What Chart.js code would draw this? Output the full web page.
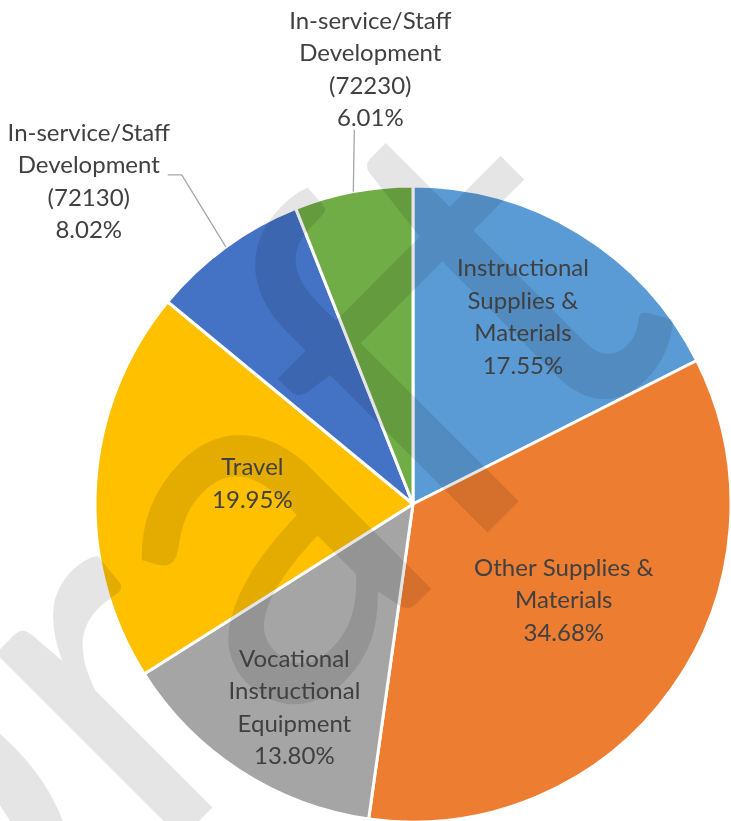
<!DOCTYPE html>
<html>
<head>
<meta charset="utf-8">
<script src="https://cdn.jsdelivr.net/npm/chart.js@4.4.1/dist/chart.umd.min.js"></script>
<style>
  html, body { margin: 0; padding: 0; background: #fff; }
  #grafica { display: block; }
</style>
</head>
<body>
<canvas id="grafica" width="731" height="821"></canvas>
<script>
// category names, one entry per line of the data label
const categorias = [
  ['Instructional', 'Supplies &', 'Materials'],
  ['Other Supplies &', 'Materials'],
  ['Vocational', 'Instructional', 'Equipment'],
  ['Travel'],
  ['In-service/Staff', 'Development', '(72130)'],
  ['In-service/Staff', 'Development', '(72230)'],
];
const porcentajes = [17.55, 34.68, 13.80, 19.95, 8.02, 6.01];
const colores = ['#5B9BD5', '#ED7D31', '#A5A5A5', '#FFC000', '#4472C4', '#70AD47'];

// where each label goes: inside along the slice middle, or outside with a leader line
const colocacion = [
  { frac: 0.69, dx: -5, dy: 0 },
  { frac: 0.56, dx: 6, dy: -7 },
  { frac: 0.763, dx: 13, dy: 0 },
  { frac: 0.506, dx: 0, dy: -10 },
  { dx: -137, dy: -65, guia: [[-44, -72], [-58, -72]] },
  { dx: 17, dy: -122, guia: [[1, -62]] },
];

const etiquetas = {
  id: 'etiquetas',
  afterDatasetsDraw(chart) {
    const ctx = chart.ctx;
    const arcos = chart.getDatasetMeta(0).data;

    // watermark over the pie
    ctx.save();
    ctx.translate(690, 330);
    ctx.rotate(-Math.PI / 4);
    ctx.scale(1, 1.05);
    ctx.font = '493px Lato';
    ctx.fillStyle = 'rgba(0, 0, 0, 0.1)';
    ctx.textAlign = 'right';
    ctx.textBaseline = 'alphabetic';
    ctx.fillText('Draft', 0, 0);
    ctx.restore();

    ctx.save();
    ctx.font = '24px Lato';
    ctx.fillStyle = '#404040';
    ctx.textAlign = 'center';
    ctx.textBaseline = 'middle';
    arcos.forEach((arco, i) => {
      const c = colocacion[i];
      const medio = (arco.startAngle + arco.endAngle) / 2;
      const cos = Math.cos(medio);
      const sin = Math.sin(medio);
      const lineas = [...categorias[i], porcentajes[i].toFixed(2) + '%'];
      let cx, cy;
      if (c.guia) {
        const bx = arco.x + cos * arco.outerRadius;
        const by = arco.y + sin * arco.outerRadius;
        ctx.beginPath();
        ctx.moveTo(bx, by);
        c.guia.forEach(p => ctx.lineTo(bx + p[0], by + p[1]));
        ctx.strokeStyle = '#A6A6A6';
        ctx.lineWidth = 1.3;
        ctx.stroke();
        cx = bx + c.dx;
        cy = by + c.dy;
      } else {
        cx = arco.x + cos * arco.outerRadius * c.frac + c.dx;
        cy = arco.y + sin * arco.outerRadius * c.frac + c.dy;
      }
      lineas.forEach((t, k) => {
        ctx.fillText(t, cx, cy + (k - (lineas.length - 1) / 2) * 32.5);
      });
    });
    ctx.restore();
  }
};

new Chart(document.getElementById('grafica'), {
  type: 'pie',
  data: {
    labels: categorias,
    datasets: [{
      data: porcentajes,
      backgroundColor: colores,
      borderColor: '#FFFFFF',
      borderWidth: 3,
    }],
  },
  options: {
    responsive: false,
    animation: false,
    radius: 318,
    layout: { padding: { left: 95, top: 187, right: 0, bottom: 0 } },
    plugins: {
      legend: { display: false },
      tooltip: { enabled: false },
    },
  },
  plugins: [etiquetas],
});
</script>
</body>
</html>
